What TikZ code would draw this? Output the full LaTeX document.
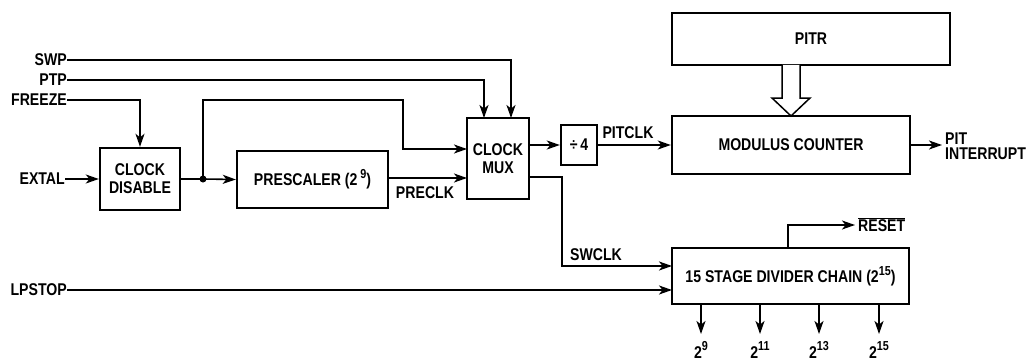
\documentclass[tikz,border=0pt]{standalone}
\usepackage{fontspec}
\setmainfont{Liberation Sans}[FakeStretch=0.83]
\usetikzlibrary{arrows.meta}
\newcommand{\ovl}[1]{\ensuremath{\overline{\mbox{#1}}}}
\newcommand{\sups}[1]{\raisebox{0.42em}{\fontsize{13}{13}\selectfont #1}}
\begin{document}
\begin{tikzpicture}[x=1pt,y=-1pt,
  font=\fontsize{17}{18}\selectfont\bfseries,
  box/.style={draw,line width=2.4pt,align=center,inner sep=0pt},
  wire/.style={line width=1.6pt},
  arr/.style={wire,-{Stealth[length=13pt,width=9pt,inset=3.5pt]}},
  lbl/.style={inner sep=0pt,align=left}]
\useasboundingbox (0,0) rectangle (1028,361);
% boxes
\node[box,minimum width=80,minimum height=62] (cd) at (140,179) {CLOCK\\DISABLE};
\node[box,minimum width=151,minimum height=57] (pre) at (312.5,179.5) {PRESCALER (2\,\sups{9})};
\node[box,minimum width=62,minimum height=81] (mux) at (498,158.5) {CLOCK\\MUX};
\node[box,minimum width=36,minimum height=40] (d4) at (579,145) {÷\,4};
\node[box,minimum width=238,minimum height=58] (mc) at (791,145) {MODULUS COUNTER};
\node[box,minimum width=278,minimum height=52] (pitr) at (811,39) {PITR};
\node[box,minimum width=237,minimum height=56] (dc) at (790.5,276) {15 STAGE DIVIDER CHAIN (2\sups{15})};
% input labels
\node[lbl,anchor=east] (swp) at (67,60) {SWP};
\node[lbl,anchor=east] (ptp) at (67,80) {PTP};
\node[lbl,anchor=east] (frz) at (67,100) {FREEZE};
\node[lbl,anchor=east] (ext) at (65,179) {EXTAL};
\node[lbl,anchor=east] (lps) at (67,290) {LPSTOP};
% other labels
\node[lbl] (preclk) at (425,193) {PRECLK};
\node[lbl] (pitclk) at (628,133) {PITCLK};
\node[lbl] (swclk) at (596,255) {SWCLK};
\node[lbl,anchor=west,font=\fontsize{17}{15}\selectfont\bfseries] (pit) at (945,146) {PIT\\INTERRUPT};
\node[lbl,anchor=west] (rst) at (858,225) {\ovl{RESET}};
% coordinates
\fill (203,179) circle (3.5) coordinate (dot);
\coordinate (pitout) at (942,145);
\coordinate (rstend) at (855,225);
% connections
\draw[arr] (swp.east) -- (511,60) -- (511,118);
\draw[arr] (ptp.east) -- (484,80) -- (484,118);
\draw[arr] (frz.east) -| (cd.north);
\draw[arr] (ext.east) -- (cd.west);
\draw[wire] (cd.east) -- (dot);
\draw[arr] (dot) -- (pre.west);
\draw[arr] (dot) |- (403,100) |- (467,149);
\draw[arr] (pre.east |- 0,178) -- (467,178);
\draw[arr] (529,145) -- (d4.west);
\draw[arr] (d4.east) -- (mc.west);
\draw[arr] (mc.east) -- (pitout);
\draw[arr] (529,177) -| (562,266) -- (672,266);
\draw[arr] (lps.east) -- (672,290);
\draw[arr] (788,248) |- (rstend);
\draw[line width=1.5pt,fill=white] (782,65) -- (782,98) -- (772,98) -- (791,116) -- (810,98) -- (800,98) -- (800,65);
% outputs
\foreach \x/\e [count=\i] in {701/9,760/11,819/13,879/15}{
  \draw[arr] (\x,304) -- (\x,334);
  \node[lbl] (o\i) at (\x,350) {2\sups{\e}};
}
\end{tikzpicture}
\end{document}
